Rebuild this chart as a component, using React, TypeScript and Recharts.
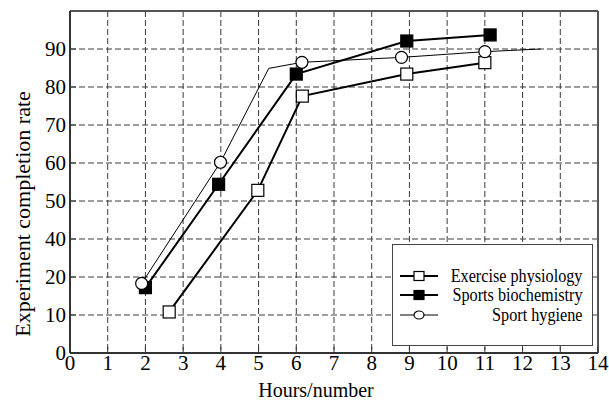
import { CartesianGrid, Legend, Line, LineChart, ReferenceLine, XAxis, YAxis } from 'recharts'

// y grid labels as printed in the original (it skips 30)
const yTicks = [0, 10, 20, 30, 40, 50, 60, 70, 80]
const yTickLabels = ['0', '10', '20', '40', '50', '60', '70', '80', '90']
const xTicks = [0, 1, 2, 3, 4, 5, 6, 7, 8, 9, 10, 11, 12, 13, 14]

const physiologyX = [2.63, 4.98, 6.16, 8.93, 11.0]
const physiologyY = [10.8, 42.8, 67.6, 73.4, 76.4]

const biochemX = [2.0, 3.94, 6.0, 8.93, 11.14]
const biochemY = [17.2, 44.4, 73.4, 82.1, 83.7]

// hygiene line has two bends without a marker
const hygieneX = [1.9, 3.99, 5.27, 6.15, 8.79, 11.0, 12.48]
const hygieneY = [18.3, 50.2, 74.9, 76.5, 77.8, 79.3, 80.0]
const hygieneMarked = [true, true, false, true, true, true, false]

const toRows = (xs: number[], ys: number[], marked?: boolean[]) =>
  xs.map((x, i) => ({ x, y: ys[i], marked: marked ? marked[i] : true }))

const physiology = toRows(physiologyX, physiologyY)
const biochem = toRows(biochemX, biochemY)
const hygiene = toRows(hygieneX, hygieneY, hygieneMarked)

const FONT = 'Liberation Serif'

type Kind = 'open' | 'filled' | 'circle'

function marker(kind: Kind) {
  return (props: any) => {
    const { cx, cy, index, payload } = props
    if (!payload?.marked || cx == null || cy == null) return <g key={index} />
    if (kind === 'circle')
      return <circle key={index} cx={cx} cy={cy} r={6} fill="#fff" stroke="#000" strokeWidth={1.2} />
    return (
      <rect
        key={index}
        x={cx - 6}
        y={cy - 6}
        width={12}
        height={12}
        fill={kind === 'filled' ? '#000' : '#fff'}
        stroke="#000"
        strokeWidth={1.2}
      />
    )
  }
}

function XTick(props: any) {
  const { x, y, payload } = props
  return (
    <text x={x} y={y} dy={14} textAnchor="middle" fill="#000" fontSize={21} fontFamily={FONT}>
      {payload.value}
    </text>
  )
}

function YTick(props: any) {
  const { x, y, payload } = props
  return (
    <text x={x} y={y} dy={7} textAnchor="end" fill="#000" fontSize={21} fontFamily={FONT}>
      {yTickLabels[yTicks.indexOf(payload.value)] ?? payload.value}
    </text>
  )
}

const legendItems: { name: string; kind: Kind; width: number }[] = [
  { name: 'Exercise physiology', kind: 'open', width: 2 },
  { name: 'Sports biochemistry', kind: 'filled', width: 2 },
  { name: 'Sport hygiene', kind: 'circle', width: 1 },
]

function LegendBox() {
  const rowTops = [31, 50, 70]
  return (
    <div
      style={{
        position: 'relative',
        width: 201,
        height: 102,
        boxSizing: 'border-box',
        border: '1.5px solid #444',
        background: '#fff',
        fontFamily: FONT,
        fontSize: 18,
      }}
    >
      {legendItems.map((item, i) => (
        <div
          key={item.name}
          style={{ position: 'absolute', left: 0, right: 0, top: rowTops[i] - 10, height: 20 }}
        >
          <svg width={50} height={20} style={{ position: 'absolute', left: 5, top: 0 }}>
            <line x1={2} y1={10} x2={40} y2={10} stroke="#000" strokeWidth={item.width} />
            {item.kind === 'circle' ? (
              <ellipse cx={21} cy={10} rx={5} ry={4} fill="#fff" stroke="#000" strokeWidth={1.2} />
            ) : (
              <rect
                x={16}
                y={5.5}
                width={10}
                height={9}
                fill={item.kind === 'filled' ? '#000' : '#fff'}
                stroke="#000"
                strokeWidth={1.2}
              />
            )}
          </svg>
          <span
            style={{
              position: 'absolute',
              right: 10,
              top: 0,
              lineHeight: '20px',
              color: '#000',
              whiteSpace: 'nowrap',
              transform: 'scaleX(0.9)',
              transformOrigin: 'right center',
            }}
          >
            {item.name}
          </span>
        </div>
      ))}
    </div>
  )
}

export default function App() {
  return (
    <div style={{ position: 'absolute', left: 0, top: 0, background: '#fff', fontFamily: FONT }}>
      <LineChart width={609} height={403} margin={{ top: 11, right: 11, left: 0, bottom: 0 }}>
        <CartesianGrid strokeDasharray="6 3" stroke="#3a3a3a" strokeWidth={1} />
        <XAxis
          type="number"
          dataKey="x"
          domain={[0, 14]}
          ticks={xTicks}
          interval={0}
          height={50}
          allowDataOverflow
          axisLine={{ stroke: '#333', strokeWidth: 2 }}
          tickLine={{ stroke: '#333' }}
          tickSize={-6}
          tickMargin={9}
          tick={<XTick />}
          label={{
            content: () => (
              <text x={316} y={397} textAnchor="middle" fill="#000" fontSize={20} fontFamily={FONT}>
                Hours/number
              </text>
            ),
          }}
        />
        <YAxis
          type="number"
          domain={[0, 90]}
          ticks={yTicks}
          interval={0}
          width={70}
          allowDataOverflow
          axisLine={{ stroke: '#333', strokeWidth: 2 }}
          tickLine={{ stroke: '#333' }}
          tickSize={-6}
          tickMargin={10}
          tick={<YTick />}
          label={{
            content: () => (
              <text
                x={22}
                y={214}
                transform="rotate(-90 22 214)"
                textAnchor="middle"
                dominantBaseline="central"
                fill="#000"
                fontSize={22}
                fontFamily={FONT}
              >
                Experiment completion rate
              </text>
            ),
          }}
        />
        <ReferenceLine y={90} stroke="#555" strokeWidth={2} />
        <ReferenceLine x={14} stroke="#555" strokeWidth={2} />
        <Line
          data={physiology}
          dataKey="y"
          name="Exercise physiology"
          stroke="#000"
          strokeWidth={2}
          dot={marker('open')}
          isAnimationActive={false}
        />
        <Line
          data={biochem}
          dataKey="y"
          name="Sports biochemistry"
          stroke="#000"
          strokeWidth={2}
          dot={marker('filled')}
          isAnimationActive={false}
        />
        <Line
          data={hygiene}
          dataKey="y"
          name="Sport hygiene"
          stroke="#000"
          strokeWidth={1}
          dot={marker('circle')}
          isAnimationActive={false}
        />
        <Legend
          layout="vertical"
          align="center"
          verticalAlign="middle"
          content={() => <LegendBox />}
          wrapperStyle={{ left: 392, top: 244, width: 201, height: 102 }}
        />
      </LineChart>
    </div>
  )
}
